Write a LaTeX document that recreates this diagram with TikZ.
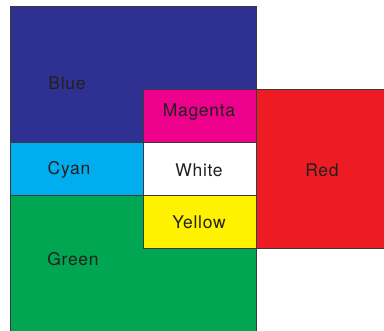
\documentclass[tikz,border=0pt]{standalone}
\usepackage{fontspec}
\setmainfont[LetterSpace=4]{TeX Gyre Heros}
\definecolor{cblue}{HTML}{2E3192}
\definecolor{cmagenta}{HTML}{EC008C}
\definecolor{ccyan}{HTML}{00AEEF}
\definecolor{cyellow}{HTML}{FFF200}
\definecolor{cgreen}{HTML}{00A651}
\definecolor{cred}{HTML}{ED1C24}
\definecolor{edge}{HTML}{3A3A3A}
\definecolor{ink}{HTML}{231F20}

\begin{document}
\begin{tikzpicture}[
			x=1pt, y=-1pt,
			region/.style={draw=edge, line width=1pt},
			lbl/.style={text=ink, font=\fontsize{17.5}{20}\selectfont, inner sep=0pt}
			]
			\useasboundingbox (0,0) rectangle (384,331);
			\clip (0,0) rectangle (384,331);
			% large areas first
			\filldraw[region, fill=cblue] (10,7) rectangle (256,143);
			\filldraw[region, fill=cgreen] (10,196) rectangle (256,340);
			\filldraw[region, fill=cred] (256,90) rectangle (392,249);
			% small squares on top
			\filldraw[region, fill=cmagenta] (143,90) rectangle (256,143);
			\filldraw[region, fill=ccyan] (10,143) rectangle (143,196);
			\filldraw[region, fill=white] (143,143) rectangle (256,196);
			\filldraw[region, fill=cyellow] (143,196) rectangle (256,249);
			% labels
			\node[lbl] (blue) at (67,83) {Blue};
			\node[lbl] (magenta) at (199,112) {Magenta};
			\node[lbl] (cyan) at (69,170) {Cyan};
			\node[lbl] (white) at (199,170) {White};
			\node[lbl] (yellow) at (199,222) {Yellow};
			\node[lbl] (red) at (322,170) {Red};
			\node[lbl] (green) at (73,259) {Green};
		\end{tikzpicture}
\end{document}
